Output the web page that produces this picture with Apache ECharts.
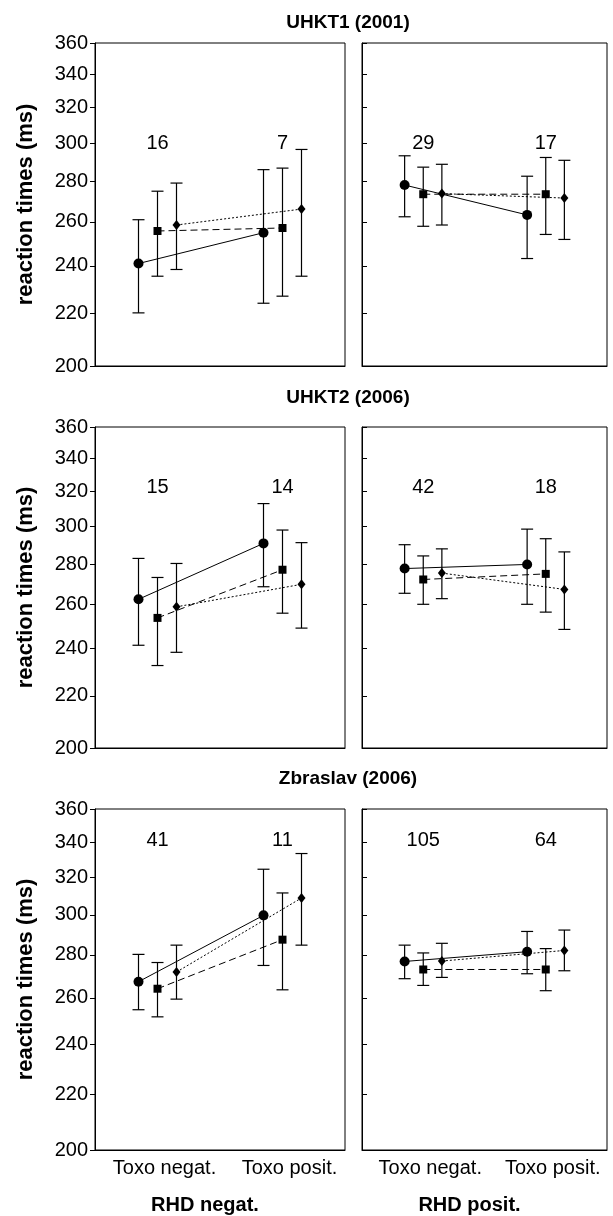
<!DOCTYPE html>
<html><head><meta charset="utf-8">
<script src="https://cdn.jsdelivr.net/npm/echarts@6/dist/echarts.min.js"></script>
<style>html,body{margin:0;padding:0;background:#fff}#c{width:613px;height:1216px}</style>
</head><body><div id="c"></div>
<script>
// ---------- DATA ----------
const studies = ['UHKT1 (2001)', 'UHKT2 (2006)', 'Zbraslav (2006)'];
const rhdGroups = ['RHD negat.', 'RHD posit.'];
const toxoCategories = ['Toxo negat.', 'Toxo posit.'];
const yTickValues = [200, 220, 240, 260, 280, 300, 320, 340, 360];
const seriesNames = ['circle', 'square', 'diamond'];

// sample sizes [toxo negat., toxo posit.]
const nUhkt1Neg = [16, 7],   nUhkt1Pos = [29, 17];
const nUhkt2Neg = [15, 14],  nUhkt2Pos = [42, 18];
const nZbrNeg   = [41, 11],  nZbrPos   = [105, 64];

// each array: rows = circle, square, diamond; columns = [toxo negat., toxo posit.]
const uhkt1NegMean = [[241.0, 254.9], [255.7, 257.1], [258.5, 266.1]];
const uhkt1NegLow  = [[220.3, 224.2], [235.5, 227.1], [238.4, 235.5]];
const uhkt1NegHigh = [[261.0, 285.9], [274.9, 286.7], [279.0, 296.6]];
const uhkt1PosMean = [[278.0, 263.3], [273.4, 273.4], [273.7, 271.5]];
const uhkt1PosLow  = [[262.4, 243.2], [257.9, 254.1], [258.5, 251.8]];
const uhkt1PosHigh = [[293.2, 282.5], [287.2, 292.3], [288.7, 290.8]];

const uhkt2NegMean = [[262.6, 290.9], [253.8, 277.2], [259.0, 269.9]];
const uhkt2NegLow  = [[241.4, 268.7], [232.6, 256.0], [238.3, 249.1]];
const uhkt2NegHigh = [[283.0, 312.9], [273.3, 298.1], [280.4, 291.3]];
const uhkt2PosMean = [[277.8, 279.9], [272.3, 275.1], [275.5, 267.4]];
const uhkt2PosLow  = [[265.5, 260.2], [260.2, 256.5], [262.9, 248.5]];
const uhkt2PosHigh = [[290.2, 298.6], [284.3, 293.4], [288.0, 286.4]];

const zbrNegMean = [[267.3, 299.7], [264.1, 287.4], [271.8, 308.8]];
const zbrNegLow  = [[254.7, 274.9], [251.6, 263.6], [259.4, 284.7]];
const zbrNegHigh = [[280.2, 324.5], [276.3, 311.5], [284.7, 333.4]];
const zbrPosMean = [[276.8, 281.5], [273.0, 273.0], [277.0, 282.1]];
const zbrPosLow  = [[268.7, 271.0], [265.6, 263.2], [269.3, 272.4]];
const zbrPosHigh = [[284.7, 291.5], [280.9, 283.0], [285.6, 292.2]];

// ---------- LAYOUT ----------
const FONT = '"Liberation Sans", Arial, Helvetica, sans-serif';
const rowTop = [43, 427, 809];
const rowHeight = [323, 321, 341];
const colLeft = [95, 362];
const colWidth = [250, 245];
const titleTop = [13, 388, 769];
const countLevel = [300, 322, 341];
const dodge = [-0.152, 0, 0.152];
const symbols = ['circle', 'rect', 'diamond'];
const symbolSizes = [10, 8, [8, 10]];
const lineTypes = ['solid', [7, 4], [2, 2]];

const panels = [
  [[uhkt1NegMean, uhkt1NegLow, uhkt1NegHigh, nUhkt1Neg], [uhkt1PosMean, uhkt1PosLow, uhkt1PosHigh, nUhkt1Pos]],
  [[uhkt2NegMean, uhkt2NegLow, uhkt2NegHigh, nUhkt2Neg], [uhkt2PosMean, uhkt2PosLow, uhkt2PosHigh, nUhkt2Pos]],
  [[zbrNegMean, zbrNegLow, zbrNegHigh, nZbrNeg], [zbrPosMean, zbrPosLow, zbrPosHigh, nZbrPos]]
];

const grids = [], xAxes = [], yAxes = [], series = [], titles = [];

studies.forEach((st, r) => {
  titles.push({
    text: st, left: 348, top: titleTop[r], textAlign: 'center', padding: 0,
    textStyle: { fontFamily: FONT, fontSize: 19, fontWeight: 'bold', color: '#000' }
  });
});

panels.forEach((row, r) => {
  row.forEach((pd, c) => {
    const k = grids.length;
    const [mean, low, high, counts] = pd;
    const bottomRow = r === 2;
    grids.push({
      left: colLeft[c], top: rowTop[r], width: colWidth[c], height: rowHeight[r],
      show: true, borderColor: '#000', borderWidth: 1, backgroundColor: 'transparent',
      containLabel: false, outerBoundsMode: 'none'
    });
    xAxes.push({
      type: 'value', gridIndex: k, min: -0.5, max: 1.5,
      splitLine: { show: false }, axisTick: { show: false },
      axisLine: { show: true, onZero: false, lineStyle: { color: '#000', width: 1 } },
      axisLabel: bottomRow ? {
        show: true, customValues: [0, 1], margin: 8,
        fontFamily: FONT, fontSize: 20, color: '#000', padding: [0, 0, 0, 14],
        formatter: v => toxoCategories[Math.round(v)]
      } : { show: false },
      name: bottomRow ? rhdGroups[c] : '',
      nameLocation: 'middle', nameGap: 45, nameMoveOverlap: false,
      nameTextStyle: { fontFamily: FONT, fontSize: 20, fontWeight: 'bold', color: '#000', padding: [0, 30, 0, 0] }
    });
    yAxes.push({
      type: 'log', logBase: 10, gridIndex: k, min: 200, max: 360,
      splitLine: { show: false }, minorTick: { show: false },
      axisLine: { show: true, onZero: false, lineStyle: { color: '#000', width: 1 } },
      axisTick: { show: true, inside: c === 1, length: 5, customValues: yTickValues, lineStyle: { color: '#000' } },
      axisLabel: c === 0 ? {
        show: true, customValues: yTickValues, margin: 7,
        fontFamily: FONT, fontSize: 20, color: '#000'
      } : { show: false },
      name: c === 0 ? 'reaction times (ms)' : '',
      nameLocation: 'middle', nameGap: 58, nameRotate: 90, nameMoveOverlap: false,
      nameTextStyle: { fontFamily: FONT, fontSize: 22, fontWeight: 'bold', color: '#000' }
    });
    // sample size labels
    series.push({
      type: 'scatter', xAxisIndex: k, yAxisIndex: k, silent: true, z: 5,
      symbolSize: 1, itemStyle: { color: 'rgba(255,255,255,0)' },
      data: counts.map((n, i) => ({ value: [i, countLevel[r]], n })),
      label: {
        show: true, position: 'inside', fontFamily: FONT, fontSize: 20, color: '#000',
        textBorderWidth: 0, opacity: 1,
        formatter: p => String(p.data.n)
      }
    });
    for (let s = 0; s < 3; s++) {
      // error bars
      series.push({
        type: 'custom', xAxisIndex: k, yAxisIndex: k, silent: true, z: 2,
        data: [0, 1].map(i => [i + dodge[s], low[s][i], high[s][i]]),
        encode: { x: 0, y: [1, 2] },
        renderItem: (params, api) => {
          const x = api.value(0);
          const pLo = api.coord([x, api.value(1)]);
          const pHi = api.coord([x, api.value(2)]);
          const cap = 6;
          const st = { stroke: '#000', lineWidth: 1.2 };
          return {
            type: 'group', children: [
              { type: 'line', shape: { x1: pLo[0], y1: pLo[1], x2: pHi[0], y2: pHi[1] }, style: st },
              { type: 'line', shape: { x1: pLo[0] - cap, y1: pLo[1], x2: pLo[0] + cap, y2: pLo[1] }, style: st },
              { type: 'line', shape: { x1: pHi[0] - cap, y1: pHi[1], x2: pHi[0] + cap, y2: pHi[1] }, style: st }
            ]
          };
        }
      });
      // means + connecting lines
      series.push({
        type: 'line', name: seriesNames[s], xAxisIndex: k, yAxisIndex: k, silent: true, z: 3,
        data: [0, 1].map(i => [i + dodge[s], mean[s][i]]),
        symbol: symbols[s], symbolSize: symbolSizes[s], showSymbol: true,
        itemStyle: { color: '#000', borderColor: '#000', borderWidth: 0 },
        lineStyle: { color: '#000', width: 1, type: lineTypes[s] },
        animation: false
      });
    }
  });
});

const chart = echarts.init(document.getElementById('c'), null, { renderer: 'canvas' });
chart.setOption({
  backgroundColor: '#fff',
  animation: false,
  title: titles,
  grid: grids, xAxis: xAxes, yAxis: yAxes, series
});
</script></body></html>
